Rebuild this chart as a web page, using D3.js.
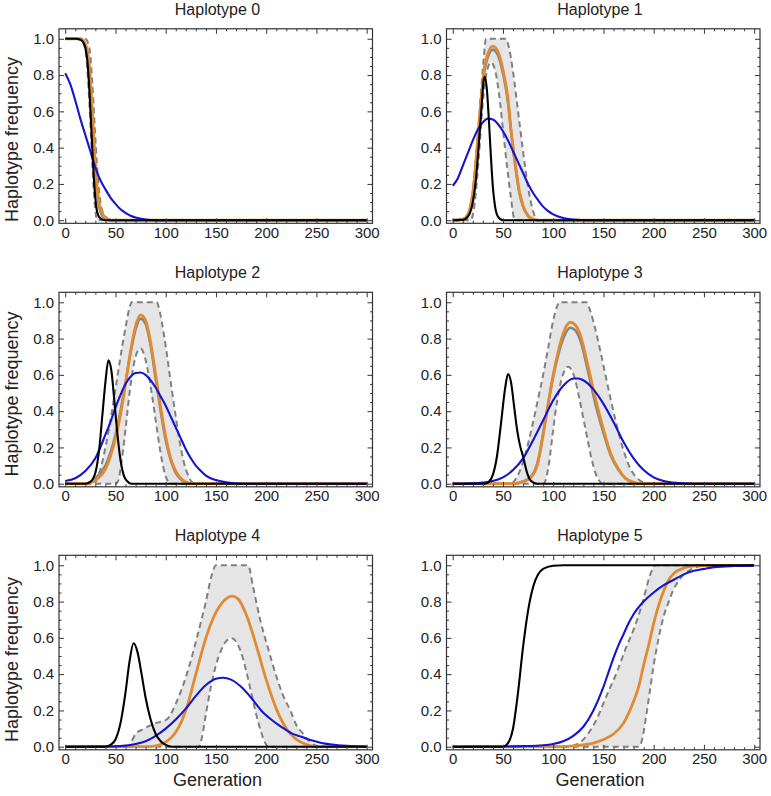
<!DOCTYPE html>
<html><head><meta charset="utf-8">
<script src="https://cdn.jsdelivr.net/npm/d3@7/dist/d3.min.js"></script>
<style>
html,body{margin:0;padding:0;background:#fff;}
svg{display:block;font-family:"Liberation Sans",Arial,Helvetica,sans-serif;}
</style></head>
<body>
<svg id="chart" width="771" height="796"></svg>
<script>
// ---------------- DATA (generation, frequency) ----------------
const titles = ["Haplotype 0","Haplotype 1","Haplotype 2","Haplotype 3","Haplotype 4","Haplotype 5"];
const xTicks = [0,50,100,150,200,250,300];
const yTicks = [0,0.2,0.4,0.6,0.8,1.0];

// Haplotype 0
const h0_black = [[0,1],[10,1],[15,0.995],[18,0.98],[20,0.95],[22,0.88],[24,0.72],[26,0.5],[28,0.28],[30,0.12],[32,0.04],[35,0.01],[40,0],[300,0]];
const h0_orange = [[0,1],[15,1],[20,0.97],[24,0.85],[27,0.6],[30,0.3],[33,0.12],[36,0.05],[40,0.015],[45,0],[300,0]];
const h0_mean = [[0,1],[16,1],[20,0.97],[24,0.82],[27,0.55],[30,0.28],[33,0.1],[36,0.035],[40,0.01],[45,0],[300,0]];
const h0_upper = [[0,1],[20,1],[24,0.95],[27,0.75],[30,0.45],[33,0.2],[36,0.07],[40,0.02],[45,0.003],[48,0],[300,0]];
const h0_lower = [[0,1],[15,1],[18,0.98],[21,0.9],[24,0.65],[26,0.42],[28,0.2],[30,0.05],[32,0],[300,0]];
const h0_blue = [[0,0.81],[5,0.75],[10,0.66],[15,0.56],[20,0.47],[25,0.38],[30,0.29],[35,0.22],[40,0.17],[45,0.125],[50,0.09],[55,0.06],[60,0.04],[65,0.025],[70,0.015],[80,0.004],[90,0],[300,0]];

// Haplotype 1
const h1_black = [[0,0],[10,0.002],[15,0.02],[20,0.1],[23,0.22],[26,0.42],[29,0.65],[31,0.78],[32,0.79],[34,0.72],[36,0.55],[38,0.35],[40,0.18],[42,0.08],[45,0.02],[50,0],[300,0]];
const h1_orange = [[0,0],[10,0.005],[15,0.03],[20,0.15],[25,0.45],[28,0.65],[31,0.82],[35,0.92],[40,0.96],[45,0.93],[50,0.83],[55,0.67],[58,0.5],[62,0.32],[66,0.17],[70,0.08],[75,0.025],[80,0.005],[85,0],[300,0]];
const h1_mean = [[0,0],[10,0.005],[15,0.03],[20,0.15],[25,0.44],[28,0.64],[31,0.8],[35,0.9],[40,0.94],[45,0.91],[50,0.81],[55,0.65],[58,0.49],[62,0.31],[66,0.16],[70,0.075],[75,0.022],[80,0.004],[85,0],[300,0]];
const h1_upper = [[0,0],[12,0],[16,0.03],[20,0.15],[24,0.4],[28,0.7],[31,0.9],[33,1],[53,1],[56,0.95],[60,0.82],[65,0.6],[70,0.38],[75,0.18],[80,0.05],[84,0],[300,0]];
const h1_lower = [[0,0],[18,0],[22,0.1],[26,0.35],[30,0.65],[34,0.82],[38,0.87],[42,0.83],[46,0.7],[50,0.5],[54,0.3],[58,0.12],[61,0.01],[62,0],[300,0]];
const h1_blue = [[0,0.19],[5,0.23],[10,0.3],[15,0.37],[20,0.44],[25,0.5],[30,0.54],[35,0.56],[40,0.555],[45,0.53],[50,0.49],[55,0.44],[60,0.38],[65,0.32],[70,0.26],[75,0.2],[80,0.15],[85,0.11],[90,0.075],[95,0.05],[100,0.032],[110,0.012],[120,0.004],[135,0],[300,0]];

// Haplotype 2
const h2_black = [[0,0],[20,0],[25,0.01],[30,0.06],[34,0.2],[37,0.38],[40,0.56],[43,0.68],[46,0.62],[49,0.45],[52,0.27],[55,0.13],[58,0.05],[62,0.012],[66,0],[300,0]];
const h2_orange = [[0,0],[20,0],[30,0.02],[40,0.08],[50,0.25],[55,0.38],[60,0.55],[65,0.73],[70,0.87],[75,0.93],[80,0.9],[85,0.78],[90,0.6],[95,0.42],[100,0.26],[105,0.14],[110,0.07],[115,0.03],[120,0.01],[125,0],[300,0]];
const h2_mean = [[0,0],[20,0],[30,0.03],[40,0.1],[50,0.27],[55,0.4],[60,0.56],[65,0.72],[70,0.85],[75,0.91],[80,0.88],[85,0.76],[90,0.58],[95,0.4],[100,0.24],[105,0.13],[110,0.06],[115,0.025],[120,0.008],[125,0],[300,0]];
const h2_upper = [[0,0],[28,0],[32,0.03],[36,0.1],[40,0.2],[45,0.35],[50,0.52],[55,0.7],[60,0.86],[64,0.97],[66,1],[91,1],[94,0.95],[98,0.83],[102,0.68],[106,0.52],[110,0.37],[114,0.23],[118,0.12],[122,0.05],[126,0.01],[130,0],[300,0]];
const h2_lower = [[0,0],[50,0],[53,0.02],[56,0.12],[60,0.3],[64,0.5],[68,0.65],[72,0.73],[75,0.745],[78,0.72],[82,0.63],[86,0.5],[90,0.35],[94,0.2],[98,0.08],[102,0.015],[105,0],[300,0]];
const h2_blue = [[0,0.015],[10,0.03],[20,0.07],[30,0.14],[40,0.27],[45,0.34],[50,0.42],[55,0.49],[60,0.55],[65,0.59],[70,0.61],[75,0.613],[80,0.6],[85,0.57],[90,0.53],[95,0.48],[100,0.43],[105,0.37],[110,0.31],[115,0.25],[120,0.19],[125,0.14],[130,0.1],[135,0.07],[140,0.045],[150,0.02],[160,0.008],[175,0],[300,0]];

// Haplotype 3
const h3_black = [[0,0],[32,0],[36,0.01],[40,0.05],[44,0.15],[48,0.33],[52,0.52],[55,0.605],[58,0.56],[61,0.43],[64,0.3],[67,0.21],[70,0.15],[74,0.06],[78,0.015],[84,0],[300,0]];
const h3_orange = [[0,0],[60,0],[70,0.01],[80,0.05],[85,0.12],[90,0.27],[95,0.44],[100,0.6],[105,0.73],[110,0.83],[117,0.89],[122,0.875],[127,0.82],[135,0.64],[142,0.47],[150,0.3],[157,0.17],[165,0.08],[172,0.03],[180,0.008],[188,0],[300,0]];
const h3_mean = [[0,0],[60,0],[70,0.012],[80,0.055],[85,0.13],[90,0.28],[95,0.44],[100,0.59],[105,0.71],[110,0.8],[117,0.86],[122,0.845],[127,0.79],[135,0.61],[142,0.44],[150,0.28],[157,0.16],[165,0.075],[172,0.028],[180,0.007],[188,0],[300,0]];
const h3_upper = [[0,0],[58,0],[62,0.02],[66,0.06],[70,0.12],[75,0.22],[80,0.34],[85,0.47],[90,0.6],[95,0.75],[100,0.9],[104,0.98],[106,1],[133,1],[137,0.95],[142,0.85],[147,0.73],[152,0.6],[157,0.47],[162,0.35],[167,0.24],[172,0.15],[177,0.08],[182,0.04],[187,0.015],[192,0.003],[196,0],[300,0]];
const h3_lower = [[0,0],[90,0],[93,0.03],[96,0.12],[100,0.3],[104,0.46],[108,0.57],[112,0.63],[115,0.645],[118,0.63],[122,0.57],[126,0.47],[130,0.36],[134,0.25],[138,0.14],[142,0.06],[146,0.015],[149,0],[300,0]];
const h3_blue = [[0,0],[20,0.002],[30,0.006],[40,0.015],[50,0.035],[60,0.075],[70,0.14],[80,0.24],[90,0.35],[100,0.46],[110,0.54],[120,0.58],[125,0.58],[130,0.57],[140,0.52],[150,0.44],[160,0.34],[170,0.23],[180,0.14],[190,0.075],[200,0.035],[210,0.015],[225,0.004],[240,0],[300,0]];

// Haplotype 4
const h4_black = [[0,0],[40,0],[45,0.01],[50,0.04],[55,0.13],[60,0.3],[64,0.47],[68,0.57],[72,0.52],[76,0.4],[80,0.27],[85,0.15],[90,0.07],[95,0.03],[100,0.01],[106,0],[300,0]];
const h4_orange = [[0,0],[80,0],[90,0.005],[100,0.025],[110,0.08],[120,0.2],[130,0.4],[140,0.6],[150,0.74],[160,0.815],[166,0.83],[172,0.815],[180,0.73],[190,0.56],[200,0.37],[210,0.21],[220,0.1],[230,0.04],[240,0.012],[250,0],[300,0]];
const h4_mean = [];
const h4_upper = [[0,0],[62,0],[66,0.03],[70,0.07],[77,0.095],[90,0.13],[101,0.15],[111,0.25],[121,0.4],[131,0.6],[140,0.8],[146,0.95],[150,1],[182,1],[187,0.88],[194,0.7],[202,0.54],[210,0.39],[217,0.28],[224,0.2],[230,0.12],[237,0.07],[243,0.03],[248,0.01],[253,0],[300,0]];
const h4_lower = [[0,0],[133,0],[136,0.05],[140,0.18],[145,0.33],[150,0.45],[155,0.53],[160,0.58],[165,0.6],[170,0.58],[175,0.52],[180,0.42],[185,0.3],[190,0.18],[195,0.08],[199,0.02],[202,0],[300,0]];
const h4_blue = [[0,0],[50,0.002],[60,0.006],[70,0.015],[80,0.03],[90,0.06],[100,0.1],[110,0.15],[120,0.21],[130,0.28],[140,0.34],[150,0.375],[157,0.38],[165,0.37],[175,0.33],[185,0.27],[195,0.2],[205,0.15],[215,0.11],[225,0.075],[235,0.055],[245,0.035],[255,0.02],[265,0.012],[280,0.005],[300,0.001]];

// Haplotype 5
const h5_black = [[0,0],[50,0],[55,0.02],[60,0.1],[65,0.3],[70,0.55],[75,0.75],[80,0.88],[85,0.95],[90,0.98],[100,0.997],[110,1],[300,1]];
const h5_orange = [[0,0],[100,0],[120,0.005],[140,0.02],[150,0.04],[160,0.07],[170,0.13],[180,0.25],[185,0.33],[190,0.45],[195,0.56],[200,0.68],[205,0.78],[210,0.86],[215,0.92],[220,0.955],[230,0.985],[240,0.997],[250,1],[300,1]];
const h5_mean = [];
const h5_upper = [[0,0],[115,0],[122,0.01],[130,0.04],[138,0.1],[144,0.16],[150,0.24],[157,0.33],[164,0.42],[172,0.54],[181,0.66],[187,0.76],[192,0.86],[196,0.94],[199,0.98],[202,1],[300,1]];
const h5_lower = [[0,0],[185,0],[188,0.03],[192,0.15],[196,0.3],[200,0.45],[205,0.6],[210,0.72],[215,0.8],[220,0.87],[225,0.915],[230,0.95],[235,0.97],[240,0.985],[250,0.997],[260,1],[300,1]];
const h5_blue = [[0,0],[50,0.001],[70,0.003],[90,0.008],[100,0.015],[110,0.03],[120,0.06],[130,0.11],[140,0.2],[150,0.33],[155,0.41],[160,0.49],[165,0.56],[170,0.62],[175,0.68],[180,0.73],[190,0.8],[200,0.85],[210,0.89],[220,0.92],[230,0.95],[240,0.97],[250,0.98],[260,0.99],[280,0.996],[300,0.998]];

const panels = [
  {black:h0_black, orange:h0_orange, mean:h0_mean, upper:h0_upper, lower:h0_lower, blue:h0_blue},
  {black:h1_black, orange:h1_orange, mean:h1_mean, upper:h1_upper, lower:h1_lower, blue:h1_blue},
  {black:h2_black, orange:h2_orange, mean:h2_mean, upper:h2_upper, lower:h2_lower, blue:h2_blue},
  {black:h3_black, orange:h3_orange, mean:h3_mean, upper:h3_upper, lower:h3_lower, blue:h3_blue},
  {black:h4_black, orange:h4_orange, mean:h4_mean, upper:h4_upper, lower:h4_lower, blue:h4_blue},
  {black:h5_black, orange:h5_orange, mean:h5_mean, upper:h5_upper, lower:h5_lower, blue:h5_blue}
];

// ---------------- LAYOUT ----------------
const colL = [59, 446.5];
const rowT = [28.8, 292.3, 555.3];
const FW = 313.5, FH = 194.5;
const titleX = [217.5, 600];
const yLabelY = [139.5, 394, 659.5];

const svg = d3.select("#chart");
const fmtY = d3.format(".1f");
const minorX = d3.range(0, 301, 10).filter(v => v % 50 !== 0);
const minorY = d3.range(0, 1.0001, 0.05).map(v => +v.toFixed(2)).filter(v => Math.round(v*100) % 20 !== 0);

panels.forEach((p, i) => {
  const col = i % 2, row = Math.floor(i / 2);
  const L = colL[col], T = rowT[row];
  const x = d3.scaleLinear().domain([-6.2, 305.8]).range([L, L + FW]);
  const y = d3.scaleLinear().domain([-0.017, 1.055]).range([T + FH, T]);
  const g = svg.append("g");
  const clipId = "clip" + i;
  g.append("clipPath").attr("id", clipId).append("rect")
    .attr("x", L).attr("y", T).attr("width", FW).attr("height", FH);
  const plot = g.append("g").attr("clip-path", `url(#${clipId})`);

  const line = d3.line().x(d => x(d[0])).y(d => y(d[1])).curve(d3.curveMonotoneX);
  const area = d3.area().x(d => x(d[0])).y0(y(0)).y1(d => y(d[1])).curve(d3.curveMonotoneX);

  // band fill: area under upper minus area under lower
  plot.append("path").attr("d", area(p.upper)).attr("fill", "#e5e5e5");
  plot.append("path").attr("d", area(p.lower)).attr("fill", "#ffffff");

  // dashed bounds
  [p.upper, p.lower].forEach(s => {
    plot.append("path").attr("d", line(s)).attr("fill", "none")
      .attr("stroke", "#808080").attr("stroke-width", 2).attr("stroke-dasharray", "6,4");
  });
  if (p.mean.length) plot.append("path").attr("d", line(p.mean)).attr("fill", "none")
      .attr("stroke", "#858585").attr("stroke-width", 2.6);
  plot.append("path").attr("d", line(p.orange)).attr("fill", "none")
      .attr("stroke", "#e08b32").attr("stroke-width", 2.8);
  plot.append("path").attr("d", line(p.blue)).attr("fill", "none")
      .attr("stroke", "#1414d2").attr("stroke-width", 2.1);
  plot.append("path").attr("d", line(p.black)).attr("fill", "none")
      .attr("stroke", "#000000").attr("stroke-width", 2.1);

  // axes (ticks inward on all sides)
  const bottom = d3.axisBottom(x).tickValues(xTicks).tickSizeInner(-5).tickSizeOuter(0).tickPadding(4);
  const bottomMinor = d3.axisBottom(x).tickValues(minorX).tickSizeInner(-2.5).tickSizeOuter(0).tickFormat("");
  const top = d3.axisTop(x).tickValues(xTicks).tickSizeInner(-5).tickSizeOuter(0).tickFormat("");
  const topMinor = d3.axisTop(x).tickValues(minorX).tickSizeInner(-2.5).tickSizeOuter(0).tickFormat("");
  const left = d3.axisLeft(y).tickValues(yTicks).tickSizeInner(-5).tickSizeOuter(0).tickPadding(5).tickFormat(fmtY);
  const leftMinor = d3.axisLeft(y).tickValues(minorY).tickSizeInner(-2.5).tickSizeOuter(0).tickFormat("");
  const right = d3.axisRight(y).tickValues(yTicks).tickSizeInner(-5).tickSizeOuter(0).tickFormat("");
  const rightMinor = d3.axisRight(y).tickValues(minorY).tickSizeInner(-2.5).tickSizeOuter(0).tickFormat("");

  const axes = [
    [bottom, `translate(0,${T+FH})`], [bottomMinor, `translate(0,${T+FH})`],
    [top, `translate(0,${T})`], [topMinor, `translate(0,${T})`],
    [left, `translate(${L},0)`], [leftMinor, `translate(${L},0)`],
    [right, `translate(${L+FW},0)`], [rightMinor, `translate(${L+FW},0)`]
  ];
  axes.forEach(([ax, tr]) => {
    const a = g.append("g").attr("transform", tr).call(ax);
    a.select(".domain").remove();
    a.selectAll(".tick line").attr("stroke", "#333").attr("stroke-width", 1);
    a.selectAll(".tick text").attr("fill", "#222").style("font-size", "15px")
      .style("font-family", '"Liberation Sans",Arial,Helvetica,sans-serif');
  });

  // frame
  g.append("rect").attr("x", L).attr("y", T).attr("width", FW).attr("height", FH)
    .attr("fill", "none").attr("stroke", "#333").attr("stroke-width", 1.2);

  // title
  g.append("text").attr("x", titleX[col]).attr("y", T - 14).attr("text-anchor", "middle")
    .attr("fill", "#222").style("font-size", "16px").text(titles[i]);

  if (col === 0) {
    g.append("text").attr("transform", `translate(18,${yLabelY[row]}) rotate(-90)`)
      .attr("text-anchor", "middle").attr("fill", "#222").style("font-size", "18px")
      .text("Haplotype frequency");
  }
  if (row === 2) {
    g.append("text").attr("x", titleX[col]).attr("y", 786).attr("text-anchor", "middle")
      .attr("fill", "#222").style("font-size", "18px").text("Generation");
  }
});
</script>
</body></html>
